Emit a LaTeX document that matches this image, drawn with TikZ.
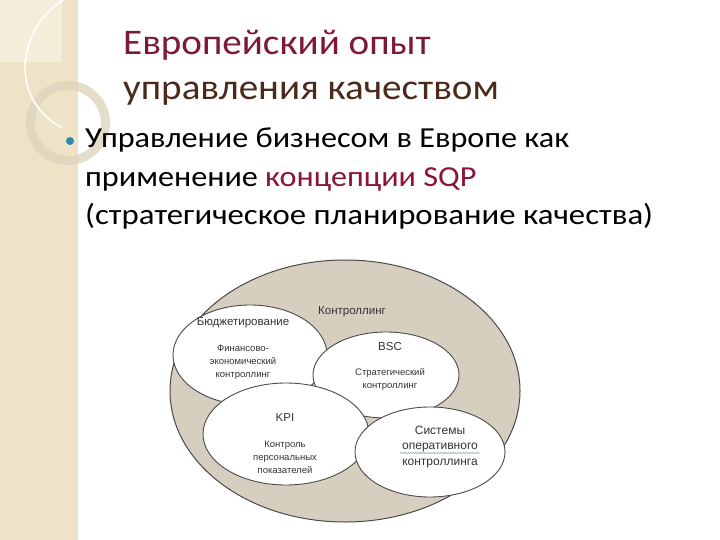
\documentclass[tikz,border=0pt]{standalone}
\usepackage{fontspec}
\setmainfont{Carlito}
\newfontfamily\titlefont[FakeStretch=1.085]{Carlito}
\newfontfamily\bodyfont[FakeStretch=1.11]{Carlito}
\newfontfamily\bodyfontw[FakeStretch=1.13]{Carlito}
\newfontfamily\arialf{Liberation Sans}
\usetikzlibrary{shapes.geometric,decorations.pathmorphing}
\definecolor{stripc}{HTML}{EEE3C6}
\definecolor{striplc}{HTML}{F5EDD9}
\definecolor{ringc}{HTML}{DED5BD}
\definecolor{bulletc}{HTML}{2C8AAE}
\definecolor{titlea}{HTML}{7D1835}
\definecolor{titleb}{HTML}{4B2A1C}
\definecolor{maroon}{HTML}{8A1538}
\definecolor{bigfill}{HTML}{D6CFC0}
\definecolor{edgec}{HTML}{4A4A4A}
\definecolor{dtext}{HTML}{333333}
\definecolor{squig}{HTML}{7FA88A}
\tikzset{
  titletext/.style={anchor=base west, inner sep=0pt, font=\titlefont\fontsize{36bp}{43bp}\selectfont},
  bodytext/.style={anchor=base west, inner sep=0pt, font=\bodyfont\fontsize{29bp}{35bp}\selectfont},
  blob/.style={ellipse, draw=edgec, line width=0.9bp, fill=white, inner sep=0pt},
  bigblob/.style={ellipse, draw=edgec, line width=1bp, fill=bigfill, inner sep=0pt},
  lbl/.style={text=dtext, inner sep=0pt, align=center, font=\arialf\fontsize{11.5bp}{14bp}\selectfont},
  sublbl/.style={text=dtext, inner sep=0pt, align=center, font=\arialf\fontsize{9.5bp}{13bp}\selectfont},
}
\begin{document}
\begin{tikzpicture}[x=1bp,y=-1bp]
\useasboundingbox (0,0) rectangle (720,540);
\fill[white] (0,0) rectangle (720,540);
% left decorative strip
\fill[stripc] (0,0) rectangle (78,540);
\fill[striplc] (0,0) rectangle (62,62);
\fill[ringc, even odd rule, opacity=0.8] (68,123) circle (42) (68,123) circle (33);
\draw[white, line width=1.6bp] (63,0) .. controls (22,25) and (4,95) .. (62,128);
\fill[bulletc] (70,141) circle (4);
% title
\node[titletext, text=titlea] (t1) at (123,55) {Европейский опыт};
\node[titletext, text=titleb] (t2) at (123,100) {управления качеством};
% body
\node[bodytext] (b1) at (85,148) {Управление бизнесом в Европе как};
\node[bodytext] (b2) at (85,187) {применение \textcolor{maroon}{концепции SQP}};
\node[bodytext, font=\bodyfontw\fontsize{29bp}{35bp}\selectfont] (b3) at (85,225) {(стратегическое планирование качества)};
% diagram
\node[bigblob, minimum width=350bp, minimum height=262bp] (big) at (345,391) {};
\node[blob, minimum width=154bp, minimum height=100bp] (bud) at (250,355) {};
\node[blob, minimum width=146bp, minimum height=86bp] (bsc) at (386,375) {};
\node[blob, minimum width=166bp, minimum height=102bp] (kpi) at (286,434) {};
\node[blob, minimum width=150bp, minimum height=90bp] (sys) at (430,452) {};
\node[lbl] (kontr) at (352,312) {Контроллинг};
\node[lbl] (budt) at (243,323) {Бюджетирование};
\node[sublbl] (buds) at (243,362) {Финансово-\\экономический\\контроллинг};
\node[lbl] (bsct) at (390,347) {BSC};
\node[sublbl] (bscs) at (390,379) {Стратегический\\контроллинг};
\node[lbl] (kpit) at (285,418) {KPI};
\node[sublbl] (kpis) at (285,457) {Контроль\\персональных\\показателей};
\node[lbl, font=\arialf\fontsize{12bp}{15.5bp}\selectfont] (syst) at (440,447) {Системы\\оперативного\\контроллинга};
\coordinate (sqa) at ([xshift=-40bp,yshift=-6bp]syst.center);
\coordinate (sqb) at ([xshift=40bp,yshift=-6bp]syst.center);
\draw[squig, line width=0.5bp, decorate, decoration={snake, amplitude=0.6bp, segment length=2.5bp}] (sqa) -- (sqb);
\end{tikzpicture}
\end{document}
